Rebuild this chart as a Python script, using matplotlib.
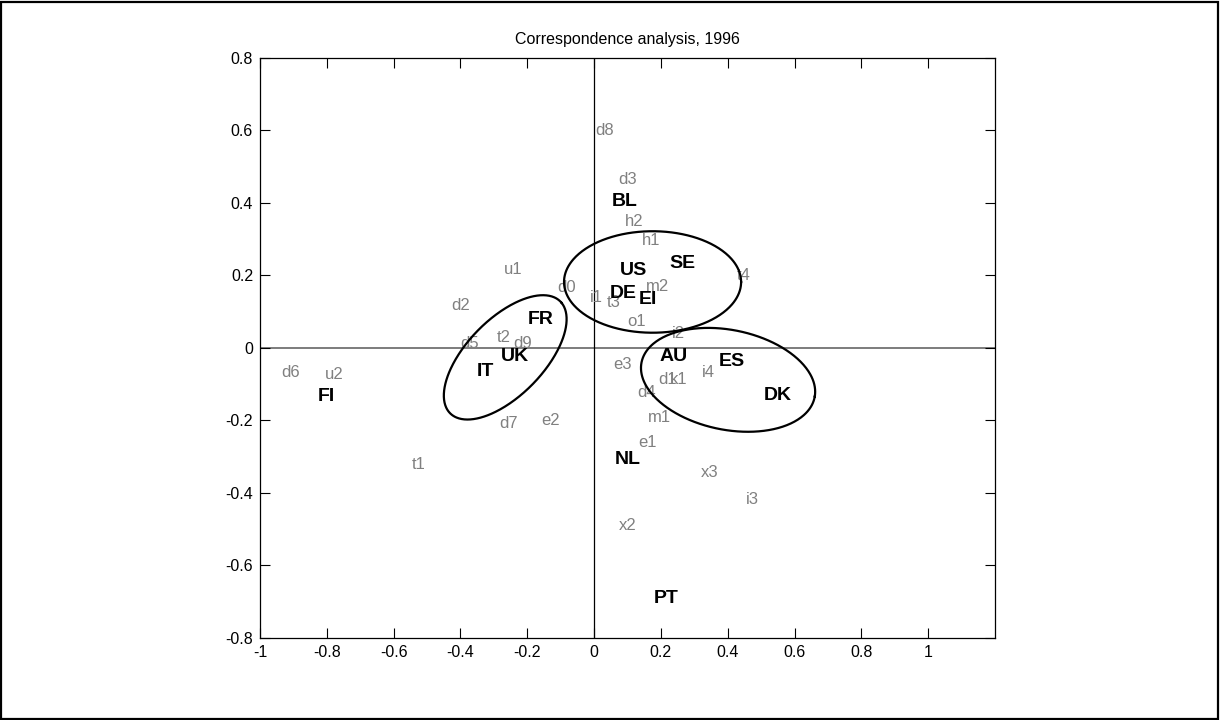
import numpy as np
import matplotlib
matplotlib.use("Agg")
import matplotlib.pyplot as plt
from matplotlib.patches import Rectangle

plt.rcParams['font.family'] = ['Liberation Sans', 'DejaVu Sans']
plt.rcParams['axes.unicode_minus'] = False

# ---- data ----
var_labels = ["u1", "d0", "d2", "t2", "d9", "d5", "d7", "e2", "i1", "t3", "m2",
              "h1", "t4", "o1", "i2", "e3", "i4", "d1", "k1", "d4", "m1", "d6",
              "u2", "t1", "d8", "d3", "h2", "e1", "x3", "i3", "x2"]
var_x = [-0.270, -0.109, -0.427, -0.292, -0.242, -0.402, -0.285, -0.157, -0.014,
         0.038, 0.156, 0.143, 0.426, 0.098, 0.233, 0.056, 0.323, 0.191, 0.228,
         0.130, 0.161, -0.935, -0.806, -0.546, 0.003, 0.073, 0.091, 0.131, 0.320,
         0.453, 0.073]
var_y = [0.221, 0.169, 0.120, 0.033, 0.016, 0.016, -0.205, -0.196, 0.144, 0.130,
         0.174, 0.300, 0.203, 0.077, 0.043, -0.041, -0.063, -0.084, -0.084,
         -0.120, -0.189, -0.063, -0.070, -0.318, 0.603, 0.468, 0.353, -0.256,
         -0.341, -0.414, -0.485]

country_labels = ["FR", "UK", "IT", "DE", "EI", "US", "SE", "AU", "ES", "DK",
                  "NL", "PT", "FI", "BL"]
country_x = [-0.199, -0.279, -0.352, 0.046, 0.133, 0.078, 0.226, 0.196, 0.373,
             0.508, 0.063, 0.178, -0.828, 0.053]
country_y = [0.084, -0.019, -0.058, 0.155, 0.140, 0.220, 0.238, -0.019, -0.032,
             -0.126, -0.301, -0.685, -0.128, 0.411]

# ellipses: center x, center y, semi-axis a, semi-axis b, angle (deg)
ell_cx = [0.175, -0.266, 0.401]
ell_cy = [0.181, -0.027, -0.089]
ell_a = [0.265, 0.226, 0.2635]
ell_b = [0.140, 0.110, 0.138]
ell_ang = [0.0, 41.8, -9.9]

title = "Correspondence analysis, 1996"
xticks = [-1, -0.8, -0.6, -0.4, -0.2, 0, 0.2, 0.4, 0.6, 0.8, 1]
yticks = [-0.8, -0.6, -0.4, -0.2, 0, 0.2, 0.4, 0.6, 0.8]

# ---- figure ----
fig = plt.figure(figsize=(12.2, 7.2), dpi=100)
ax = fig.add_axes([0.2131, 0.1145, 0.6025, 0.8055])
ax.set_xlim(-1, 1.2)
ax.set_ylim(-0.8, 0.8)

ax.axhline(0, color='0.4', lw=1.2, zorder=1)
ax.axvline(0, color='black', lw=0.9, zorder=1)

t = np.linspace(0, 2 * np.pi, 400)
for cx, cy, a, b, ang in zip(ell_cx, ell_cy, ell_a, ell_b, ell_ang):
    th = np.deg2rad(ang)
    ex = cx + a * np.cos(t) * np.cos(th) - b * np.sin(t) * np.sin(th)
    ey = cy + a * np.cos(t) * np.sin(th) + b * np.sin(t) * np.cos(th)
    ax.plot(ex, ey, color='black', lw=1.6, zorder=3)

for lab, x, y in zip(var_labels, var_x, var_y):
    ax.annotate(lab, (x, y), xytext=(0, -1.2), textcoords='offset points',
                color='#808080', fontsize=12, ha='left', va='center', zorder=2)

for lab, x, y in zip(country_labels, country_x, country_y):
    ax.annotate(lab, (x, y), xytext=(0, -1.8), textcoords='offset points',
                color='black', fontsize=14, fontweight='bold',
                ha='left', va='center', zorder=4)

def fmt(v):
    return '%g' % v

ax.set_xticks(xticks)
ax.set_xticklabels([fmt(v) for v in xticks])
ax.set_yticks(yticks)
ax.set_yticklabels([fmt(v) for v in yticks])
ax.tick_params(direction='in', length=7, width=0.8, top=True, right=True,
               labelsize=11.5, pad=5)
for sp in ax.spines.values():
    sp.set_linewidth(0.9)
ax.set_title(title, fontsize=11.5, pad=10)

fig.patches.append(Rectangle((0.0012, 0.0018), 0.9970, 0.9960, transform=fig.transFigure,
                             fill=False, edgecolor='black', lw=1.6))

fig.savefig("out.png", dpi=100)
